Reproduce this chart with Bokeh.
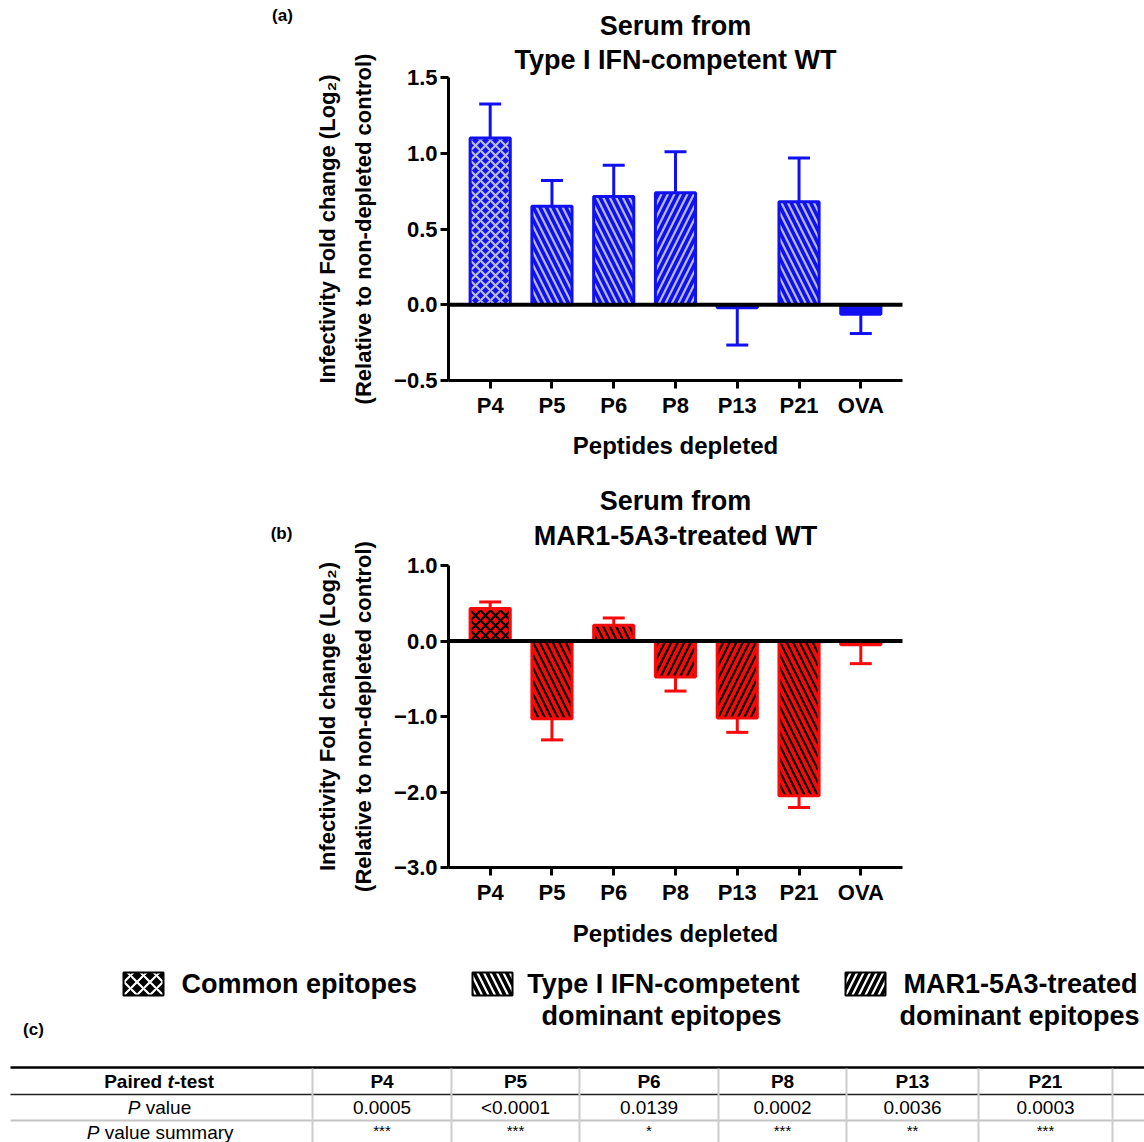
import math
import numpy as np
from bokeh.plotting import figure
from bokeh.models import (Range1d, FixedTicker, Label, ColumnDataSource,
                          LinearAxis)
from bokeh.embed import file_html
from bokeh.resources import INLINE
from bokeh.core.properties import value

# ---------------- data ----------------
peptides = ["P4", "P5", "P6", "P8", "P13", "P21", "OVA"]
epitope_class = ["common", "ifn", "ifn", "mar", "mar", "ifn", "control"]
wt_mean = [1.10, 0.65, 0.715, 0.74, -0.02, 0.68, -0.062]
wt_sem = [0.225, 0.17, 0.205, 0.27, 0.246, 0.288, 0.128]
mar_mean = [0.43, -1.03, 0.21, -0.477, -1.02, -2.05, -0.05]
mar_sem = [0.087, 0.28, 0.095, 0.186, 0.19, 0.155, 0.25]
wt_yticks = [-0.5, 0.0, 0.5, 1.0, 1.5]
mar_yticks = [-3.0, -2.0, -1.0, 0.0, 1.0]
table_header = ["P4", "P5", "P6", "P8", "P13", "P21"]
p_values = ["0.0005", "<0.0001", "0.0139", "0.0002", "0.0036", "0.0003"]
p_summary = ["***", "***", "*", "***", "**", "***"]
legend_lines = [["Common epitopes"],
                ["Type I IFN-competent", "dominant epitopes"],
                ["MAR1-5A3-treated", "dominant epitopes"]]
legend_hatch = ["x", "\\", "/"]

FONT = "Liberation Sans"
HATCH = {"common": "x", "ifn": "\\", "mar": "/", "control": " "}
HATCH_SCALE = {"x": 10, "\\": 13, "/": 13, " ": 13}

W, H = 1144, 1142

# ---------------- page geometry -> data mappings ----------------
FR_L, FR_R = 448, 902            # plot frame left/right (page px)
X_LO, X_HI = -0.675, 6.675       # category-axis extent
PX_PER_CAT = (FR_R - FR_L) / (X_HI - X_LO)


def xd(px):
    return X_LO + (px - FR_L) / PX_PER_CAT


A_TOP, A_BOT = 77, 380           # panel (a) frame, page px
B_TOP, B_BOT = 565, 867          # panel (b) frame, page px
A_LO, A_HI = wt_yticks[0], wt_yticks[-1]
B_LO, B_HI = mar_yticks[0], mar_yticks[-1]


def ya(py):
    return A_HI + (A_TOP - py) * (A_HI - A_LO) / (A_BOT - A_TOP)


def yb(py):
    return B_HI + (B_TOP - py) * (B_HI - B_LO) / (B_BOT - B_TOP)


p = figure(width=W, height=H,
           x_range=Range1d(xd(0), xd(W)), y_range=Range1d(ya(H), ya(0)),
           min_border=0, x_axis_location=None, y_axis_location=None,
           output_backend="svg", toolbar_location=None)
p.extra_y_ranges = {"yb": Range1d(yb(H), yb(0)), "py": Range1d(H, 0)}
p.extra_x_ranges = {"px": Range1d(0, W)}
p.outline_line_color = None
p.background_fill_color = "white"
p.border_fill_color = "white"
for g in p.grid:
    g.visible = False
p.xgrid.grid_line_color = None
p.ygrid.grid_line_color = None


def add_label(x, y, text, size, style="bold", angle=0.0, align="center"):
    p.add_layout(Label(x=x, y=y, x_range_name="px", y_range_name="py",
                       text=text, text_font=FONT, text_font_style=style,
                       text_font_size=f"{size}px", text_align=align,
                       text_baseline="middle", angle=angle, text_color="black"))


def fmt_tick(t):
    return f"{t:.1f}".replace("-", "\u2212")


def style_axis(ax):
    ax.axis_line_width = 3
    ax.axis_line_color = "black"
    ax.major_tick_line_width = 3
    ax.major_tick_line_color = "black"
    ax.major_tick_out = 8
    ax.major_tick_in = 0
    ax.minor_tick_line_color = None
    ax.major_label_text_font = FONT
    ax.major_label_text_font_style = "bold"
    ax.major_label_text_font_size = "22px"
    ax.major_label_text_color = "black"


def panel(mean, sem, yticks, color, hatch_color, yname):
    kw = {} if yname is None else {"y_range_name": yname}
    x = np.arange(len(mean), dtype=float)
    m = np.array(mean)
    s = np.array(sem)
    tip = m + np.sign(m) * s
    hatches = [HATCH[c] for c in epitope_class]
    src = ColumnDataSource(dict(
        x=x, top=m, tip=tip, cl=x - 0.178, cr=x + 0.178,
        hatch=hatches, hscale=[HATCH_SCALE[h] for h in hatches]))
    p.vbar(x="x", top="top", bottom=0, width=0.65, source=src,
           fill_color=color, line_color=color, line_width=3,
           hatch_pattern="hatch", hatch_color=hatch_color,
           hatch_scale="hscale", hatch_weight=2.2, **kw)
    p.segment(x0="x", y0="top", x1="x", y1="tip", source=src,
              line_color=color, line_width=3, **kw)
    p.segment(x0="cl", y0="tip", x1="cr", y1="tip", source=src,
              line_color=color, line_width=3, **kw)
    # zero line across the frame
    p.segment(x0=[X_LO], y0=[0], x1=[X_HI], y1=[0], line_color="black",
              line_width=4, **kw)

    ylo, yhi = yticks[0], yticks[-1]
    yax = LinearAxis(fixed_location=X_LO, bounds=(ylo, yhi),
                     ticker=FixedTicker(ticks=yticks),
                     major_label_overrides={t: fmt_tick(t) for t in yticks},
                     major_label_standoff=3, **kw)
    style_axis(yax)
    p.add_layout(yax, "left")
    xax = LinearAxis(fixed_location=ylo, bounds=(X_LO, X_HI),
                     ticker=FixedTicker(ticks=list(range(len(peptides)))),
                     major_label_overrides={i: n for i, n in enumerate(peptides)},
                     major_label_standoff=4, **kw)
    style_axis(xax)
    p.add_layout(xax, "below")


# ---------------- panel (a) ----------------
panel(wt_mean, wt_sem, wt_yticks, "#1010f2", "#b4bcd8", None)
add_label(282, 15, "(a)", 17)
add_label(675, 25, "Serum from", 27)
add_label(675, 59, "Type I IFN-competent WT", 27)
add_label(327, (A_TOP + A_BOT) / 2, "Infectivity Fold change (Log\u2082)", 22,
          angle=math.pi / 2)
add_label(363, (A_TOP + A_BOT) / 2, "(Relative to non-depleted control)", 22,
          angle=math.pi / 2)
add_label(675, 445, "Peptides depleted", 24)

# ---------------- panel (b) ----------------
panel(mar_mean, mar_sem, mar_yticks, "#f80a0a", "black", "yb")
add_label(281, 533, "(b)", 17)
add_label(675, 500, "Serum from", 27)
add_label(675, 535, "MAR1-5A3-treated WT", 27)
add_label(327, (B_TOP + B_BOT) / 2, "Infectivity Fold change (Log\u2082)", 22,
          angle=math.pi / 2)
add_label(363, (B_TOP + B_BOT) / 2, "(Relative to non-depleted control)", 22,
          angle=math.pi / 2)
add_label(675, 933, "Peptides depleted", 24)

# ---------------- legend ----------------
PXKW = dict(x_range_name="px", y_range_name="py")
sw_left = [123, 472, 845]
sw_src = ColumnDataSource(dict(
    left=sw_left, right=[v + 40 for v in sw_left],
    top=[972] * 3, bottom=[995] * 3, hatch=legend_hatch))
p.quad(left="left", right="right", top="top", bottom="bottom", source=sw_src,
       fill_color="black", line_color="black", line_width=2,
       hatch_pattern="hatch", hatch_color="white", hatch_scale=13,
       hatch_weight=2.2, **PXKW)

add_label(181, 983, legend_lines[0][0], 27, align="left")
add_label(663, 983, legend_lines[1][0], 27)
add_label(661, 1015, legend_lines[1][1], 27)
add_label(1020, 983, legend_lines[2][0], 27)
add_label(1019, 1015, legend_lines[2][1], 27)

add_label(33, 1029, "(c)", 17)

# ---------------- table ----------------
col_edges = [312, 451, 579, 718, 846, 978, 1112]
p.segment(x0=[10], y0=[1067], x1=[W], y1=[1067], line_color="black",
          line_width=2.5, **PXKW)
p.segment(x0=[10], y0=[1094], x1=[W], y1=[1094], line_color="#222222",
          line_width=1.5, **PXKW)
p.segment(x0=[10], y0=[1120], x1=[W], y1=[1120], line_color="#c4c4c4",
          line_width=2, **PXKW)
p.segment(x0=col_edges, y0=[1068] * len(col_edges), x1=col_edges,
          y1=[H] * len(col_edges), line_color="#cccccc", line_width=2, **PXKW)

centers = [(col_edges[i] + col_edges[i + 1]) / 2 for i in range(len(col_edges) - 1)]
tsrc = ColumnDataSource(dict(x=centers, h=table_header, v=p_values, s=p_summary))
p.text(x="x", y=1081, text="h", source=tsrc, text_font=value(FONT),
       text_font_style="bold", text_font_size="19px", text_align="center",
       text_baseline="middle", text_color="black", **PXKW)
p.text(x="x", y=1107, text="v", source=tsrc, text_font=value(FONT),
       text_font_style="normal", text_font_size="19px", text_align="center",
       text_baseline="middle", text_color="black", **PXKW)
p.text(x="x", y=1130, text="s", source=tsrc, text_font=value(FONT),
       text_font_style="normal", text_font_size="15px", text_align="center",
       text_baseline="middle", text_color="black", **PXKW)

NB = "\u00a0"
split1 = 167
add_label(split1, 1081, "Paired" + NB, 19, "bold", align="right")
add_label(split1, 1081, "t", 19, "bold italic", align="left")
add_label(split1 + 6.5, 1081, "-test", 19, "bold", align="left")
split2 = 140
add_label(split2, 1107, "P", 19, "italic", align="right")
add_label(split2, 1107, NB + "value", 19, "normal", align="left")
split3 = 99
add_label(split3, 1132, "P", 19, "italic", align="right")
add_label(split3, 1132, NB + "value summary", 19, "normal", align="left")

open("out.html", "w").write(file_html(p, INLINE))
